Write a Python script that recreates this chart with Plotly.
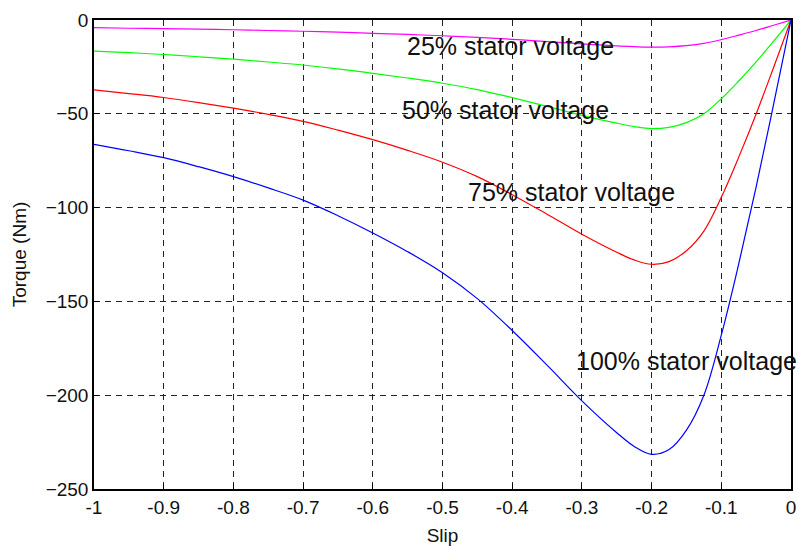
import plotly.graph_objects as go

slip = [-1.0, -0.95, -0.9, -0.85, -0.8, -0.75, -0.7, -0.65, -0.6, -0.55, -0.5, -0.45, -0.4,
        -0.35, -0.3, -0.25, -0.225, -0.2, -0.175, -0.15, -0.125, -0.1, -0.075, -0.05, -0.025, 0.0]

torque_100 = [-66.3, -69.7, -73.4, -78.2, -83.5, -89.5, -96.0, -104.3, -113.5, -123.5, -134.7,
              -148.5, -165.5, -184.0, -203.0, -220.0, -227.3, -231.5, -229.0, -218.6, -200.0,
              -168.0, -130.0, -89.0, -45.0, 0.0]
torque_75 = [-37.3, -39.2, -41.3, -44.0, -47.0, -50.3, -54.0, -58.7, -63.8, -69.5, -75.8,
             -83.5, -93.1, -103.5, -114.2, -123.8, -127.9, -130.2, -128.8, -123.0, -112.5,
             -94.5, -73.1, -50.1, -25.3, 0.0]
torque_50 = [-16.6, -17.4, -18.4, -19.6, -20.9, -22.4, -24.0, -26.1, -28.4, -30.9, -33.7,
             -37.1, -41.4, -46.0, -50.8, -55.0, -56.8, -57.9, -57.2, -54.7, -50.0,
             -42.0, -32.5, -22.3, -11.3, 0.0]
torque_25 = [-4.1, -4.4, -4.6, -4.9, -5.2, -5.6, -6.0, -6.5, -7.1, -7.7, -8.4,
             -9.3, -10.3, -11.5, -12.7, -13.8, -14.2, -14.5, -14.3, -13.7, -12.5,
             -10.5, -8.1, -5.6, -2.8, 0.0]

labels = ["25% stator voltage", "50% stator voltage", "75% stator voltage", "100% stator voltage"]
label_x = [-0.554, -0.561, -0.467, -0.312]
label_y = [-13.9, -48.0, -91.5, -181.6]

x_ticks = [-1, -0.9, -0.8, -0.7, -0.6, -0.5, -0.4, -0.3, -0.2, -0.1, 0]
x_tick_text = ["-1", "-0.9", "-0.8", "-0.7", "-0.6", "-0.5", "-0.4", "-0.3", "-0.2", "-0.1", "0"]
y_ticks = [-250, -200, -150, -100, -50, 0]

FONT = "Liberation Sans, Arial, sans-serif"

fig = go.Figure()
for ys, col in [(torque_25, "#ff00ff"), (torque_50, "#00ff00"),
                (torque_75, "#ff0000"), (torque_100, "#0000ff")]:
    fig.add_trace(go.Scatter(x=slip, y=ys, mode="lines",
                             line=dict(color=col, width=1.2, shape="spline", smoothing=1.0),
                             showlegend=False, hoverinfo="skip"))

for t, xx, yy in zip(labels, label_x, label_y):
    fig.add_annotation(x=xx, y=yy, text=t, showarrow=False, xanchor="left", yanchor="middle",
                       font=dict(family=FONT, size=25, color="#111111"))

axis_common = dict(showline=True, linecolor="black", linewidth=1.5, mirror=True,
                   showgrid=True, gridcolor="#222222", griddash="6px,5px", gridwidth=1.2,
                   zeroline=False, ticks="inside", ticklen=5, tickcolor="black",
                   ticklabeloverflow="allow",
                   tickfont=dict(family=FONT, size=19, color="#111111"))

fig.update_xaxes(range=[-1, 0], tickvals=x_ticks, ticktext=x_tick_text,
                 title=dict(text="Slip", font=dict(family=FONT, size=19, color="#111111"), standoff=12),
                 **axis_common)
fig.update_yaxes(range=[-250, 0], tickvals=y_ticks,
                 title=dict(text="Torque (Nm)", font=dict(family=FONT, size=19, color="#111111"), standoff=14),
                 **axis_common)

fig.update_layout(width=798, height=547, margin=dict(l=94, r=2, t=20, b=58),
                  paper_bgcolor="white", plot_bgcolor="white")

fig.write_html("out.html")
